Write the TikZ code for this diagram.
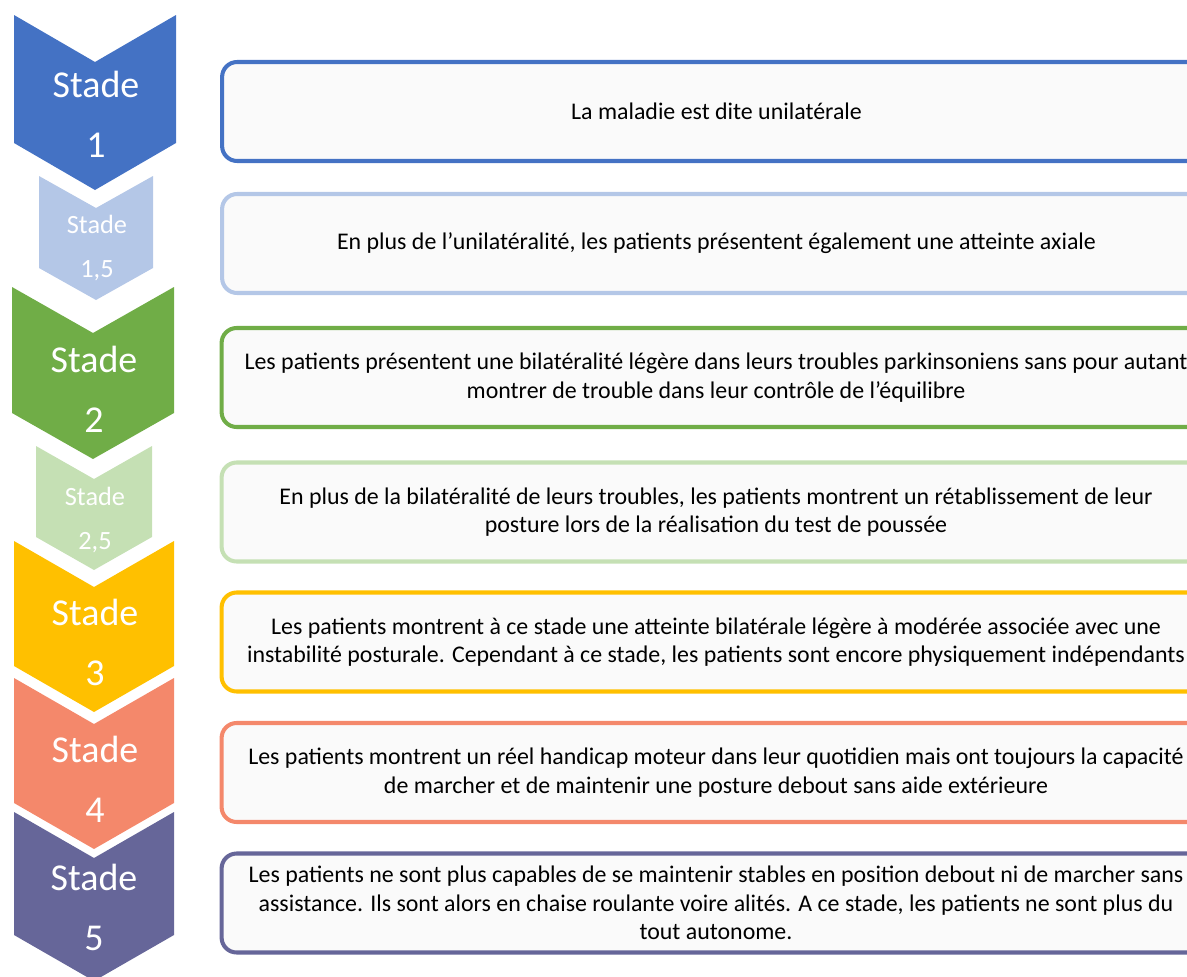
\documentclass[tikz,border=0pt]{standalone}
\usepackage{fontspec}
\setmainfont{Carlito}
\definecolor{cun}{HTML}{4472C4}
\definecolor{cunq}{HTML}{B4C7E7}
\definecolor{cdeux}{HTML}{70AD47}
\definecolor{cdeuxq}{HTML}{C5E0B4}
\definecolor{ctrois}{HTML}{FFC000}
\definecolor{cquatre}{HTML}{F4886B}
\definecolor{ccinq}{HTML}{666699}

\begin{document}
\begin{tikzpicture}[x=0.02cm, y=-0.02cm,
    box/.style = {draw, line width=2.3pt, rounded corners=0.3cm,
    fill=black!2, minimum width=19.78cm, minimum height=1.98cm,
    align=center, font=\fontsize{13.6}{16.3}\selectfont},
    bigstade/.style={text=white, align=center, anchor=base,
    font=\fontsize{21.6}{34}\selectfont},
    smallstade/.style={text=white, align=center, anchor=base,
    font=\fontsize{15}{25}\selectfont}]
    \useasboundingbox (0,0) rectangle (1187,977);
    % chevrons
    \fill[cun] (14,15) -- (95,62) -- (176,15) -- (176,143) -- (95,190) -- (14,143) -- cycle;
    \fill[cunq] (39,176) -- (96,208) -- (153,176) -- (153,268) -- (96,300) -- (39,268) -- cycle;
    \fill[cdeux] (12,287) -- (93,333) -- (174,287) -- (174,413) -- (93,459) -- (12,413) -- cycle;
    \fill[cdeuxq] (36,446) -- (94,479) -- (152,446) -- (152,537) -- (94,570) -- (36,537) -- cycle;
    \fill[ctrois] (14,541) -- (94,587) -- (174,541) -- (174,666) -- (94,712) -- (14,666) -- cycle;
    \fill[cquatre] (14,678) -- (94,724) -- (174,678) -- (174,803) -- (94,849) -- (14,803) -- cycle;
    \fill[ccinq] (14,812) -- (94,858) -- (174,812) -- (174,935) -- (94,981) -- (14,935) -- cycle;
    \node[bigstade] (s1) at (96, 157) {Stade\\1};
    \node[smallstade] (s15) at (97, 277) {Stade\\1,5};
    \node[bigstade] (s2) at (94, 432) {Stade\\2};
    \node[smallstade] (s25) at (95, 549) {Stade\\2,5};
    \node[bigstade] (s3) at (95, 685) {Stade\\3};
    \node[bigstade] (s4) at (95, 822) {Stade\\4};
    \node[bigstade] (s5) at (94, 950) {Stade\\5};
    % descriptions
    \node[box, draw=cun] (d1) at (716.5, 111.5) {La maladie est dite unilatérale};
    \node[box, draw=cunq] (d15) at (716.5, 243.5) {En plus de l’unilatéralité, les patients présentent également une atteinte axiale};
    \node[box, draw=cdeux] (d2) at (716, 377.5) {Les patients présentent une bilatéralité légère dans leurs troubles parkinsoniens sans pour autant\\montrer de trouble dans leur contrôle de l’équilibre};
    \node[box, draw=cdeuxq] (d25) at (716, 512) {En plus de la bilatéralité de leurs troubles, les patients montrent un rétablissement de leur\\posture lors de la réalisation du test de poussée};
    \node[box, draw=ctrois] (d3) at (716, 642) {Les patients montrent à ce stade une atteinte bilatérale légère à modérée associée avec une\\instabilité posturale. Cependant à ce stade, les patients sont encore physiquement indépendants};
    \node[box, draw=cquatre] (d4) at (716, 772.5) {Les patients montrent un réel handicap moteur dans leur quotidien mais ont toujours la capacité\\de marcher et de maintenir une posture debout sans aide extérieure};
    \node[box, draw=ccinq] (d5) at (716, 903) {Les patients ne sont plus capables de se maintenir stables en position debout ni de marcher sans\\assistance. Ils sont alors en chaise roulante voire alités. A ce stade, les patients ne sont plus du\\tout autonome.};
\end{tikzpicture}
\end{document}
